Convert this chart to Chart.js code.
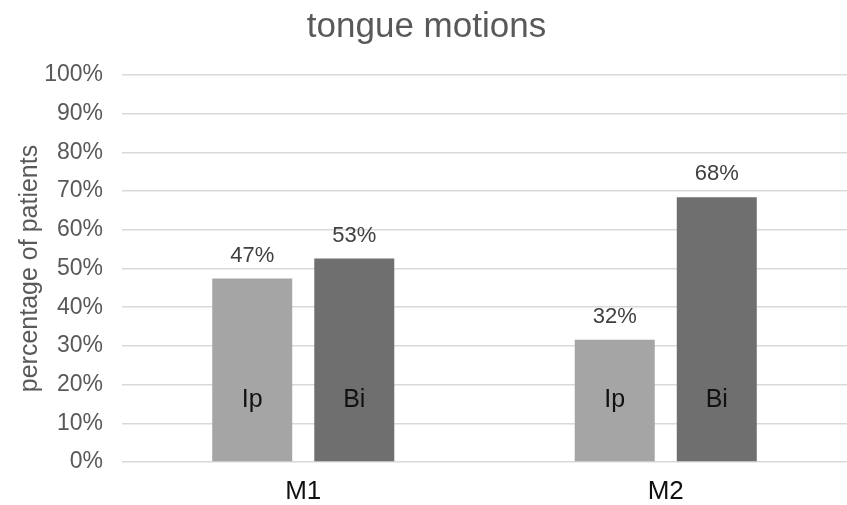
<!DOCTYPE html>
<html>
<head>
<meta charset="utf-8">
<script src="https://cdn.jsdelivr.net/npm/chart.js@4"></script>
<style>
html,body{margin:0;padding:0;background:#fff;}
#wrap{width:847px;height:505px;position:relative;}
</style>
</head>
<body>
<div id="wrap"><canvas id="c" width="847" height="505"></canvas></div>
<script>
const categories = ["M1", "M2"];
const seriesNames = ["Ip", "Bi"];
const ipValues = [47.4, 31.6];
const biValues = [52.6, 68.4];
const valueLabelsIp = ["47%", "32%"];
const valueLabelsBi = ["53%", "68%"];
const yTicks = [0, 10, 20, 30, 40, 50, 60, 70, 80, 90, 100];

const labelPlugin = {
  id: 'barLabels',
  afterDatasetsDraw(chart) {
    const ctx = chart.ctx;
    const yScale = chart.scales.y;
    const base = yScale.getPixelForValue(0);
    const labelSets = [valueLabelsIp, valueLabelsBi];
    chart.data.datasets.forEach((ds, di) => {
      const meta = chart.getDatasetMeta(di);
      meta.data.forEach((bar, i) => {
        ctx.save();
        ctx.textAlign = 'center';
        ctx.textBaseline = 'middle';
        ctx.fillStyle = '#404040';
        ctx.font = '22px "Liberation Sans", Arial, sans-serif';
        ctx.fillText(labelSets[di][i], bar.x, bar.y - 23);
        ctx.fillStyle = '#111111';
        ctx.font = '25px "Liberation Sans", Arial, sans-serif';
        ctx.fillText(ds.label, bar.x, base - 62);
        ctx.restore();
      });
    });
  }
};

new Chart(document.getElementById('c'), {
  type: 'bar',
  data: {
    labels: categories,
    datasets: [
      { label: seriesNames[0], data: ipValues, backgroundColor: '#a5a5a5', borderWidth: 0 },
      { label: seriesNames[1], data: biValues, backgroundColor: '#6f6f6f', borderWidth: 0 }
    ]
  },
  options: {
    responsive: false,
    animation: false,
    devicePixelRatio: 1,
    layout: { padding: { left: 6, right: 0, top: 6, bottom: 0 } },
    datasets: { bar: { categoryPercentage: 0.563, barPercentage: 0.784 } },
    plugins: {
      legend: { display: false },
      tooltip: { enabled: false },
      title: {
        display: true,
        text: 'tongue motions',
        color: '#595959',
        font: { family: '"Liberation Sans", Arial, sans-serif', size: 35, weight: 'normal' },
        padding: { top: 0, bottom: 27 }
      }
    },
    scales: {
      x: {
        grid: { display: false, drawTicks: false },
        border: { display: false },
        afterFit(axis) { axis.height = 43; },
        ticks: {
          color: '#111111',
          padding: 14,
          font: { family: '"Liberation Sans", Arial, sans-serif', size: 26 }
        }
      },
      y: {
        min: 0,
        max: 100,
        afterBuildTicks(axis) { axis.ticks = yTicks.map(v => ({ value: v })); },
        afterFit(axis) { axis.width = 116; },
        grid: { color: '#d9d9d9', lineWidth: 1.5, drawTicks: false },
        border: { display: false },
        ticks: {
          color: '#595959',
          padding: 19,
          font: { family: '"Liberation Sans", Arial, sans-serif', size: 23 },
          callback: v => v + '%'
        },
        title: {
          display: true,
          text: 'percentage of patients',
          color: '#595959',
          font: { family: '"Liberation Sans", Arial, sans-serif', size: 25 },
          padding: { top: 9, bottom: 0 }
        }
      }
    }
  },
  plugins: [labelPlugin]
});
</script>
</body>
</html>
